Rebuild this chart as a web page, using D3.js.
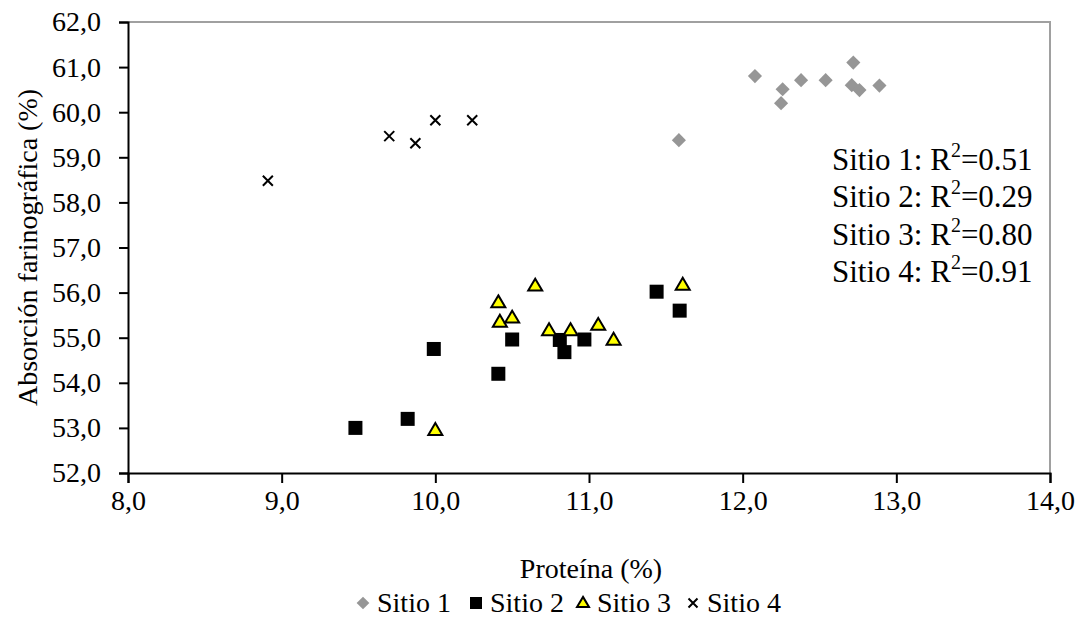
<!DOCTYPE html>
<html>
<head>
<meta charset="utf-8">
<script src="https://cdn.jsdelivr.net/npm/d3@7"></script>
<style>
  body { margin: 0; background: #fff; }
  text { font-family: "Liberation Serif", "Times New Roman", serif; fill: #000; }
</style>
</head>
<body>
<script>
(function(){

//series values
var sitio1 = [[12.08, 60.80], [12.26, 60.51], [12.25, 60.20], [12.38, 60.71], [12.54, 60.71],
              [12.72, 61.10], [12.71, 60.60], [12.76, 60.49], [12.89, 60.59], [11.585, 59.38]];
var sitio2 = [[9.48, 53.00], [9.82, 53.20], [9.99, 54.75], [10.41, 54.20], [10.50, 54.96],
              [10.81, 54.95], [10.84, 54.68], [10.97, 54.96], [11.44, 56.02], [11.59, 55.60]];
var sitio3 = [[10.00, 52.95], [10.65, 56.15], [10.41, 55.78], [10.42, 55.35], [10.50, 55.44],
              [10.74, 55.16], [10.88, 55.16], [11.06, 55.28], [11.16, 54.95], [11.61, 56.17]];
var sitio4 = [[8.91, 58.48], [9.70, 59.47], [9.87, 59.31], [10.00, 59.82], [10.24, 59.82]];

var xTicks = [8, 9, 10, 11, 12, 13, 14];
var yTicks = [52, 53, 54, 55, 56, 57, 58, 59, 60, 61, 62];
var seriesNames = ["Sitio 1", "Sitio 2", "Sitio 3", "Sitio 4"];
var r2Values = ["0.51", "0.29", "0.80", "0.91"];

//frame
var width = 1082, height = 629;
var left = 128, right = 1050, top = 22, bottom = 473;
var serif = "'Liberation Serif', 'Times New Roman', serif";

var svg = d3.select("body").append("svg")
    .attr("width", width)
    .attr("height", height);

var x = d3.scaleLinear().domain([8, 14]).range([left, right]);
var y = d3.scaleLinear().domain([52, 62]).range([bottom, top]);

var fmt = function(d){ return d3.format(".1f")(d).replace(".", ","); };

//gray frame on top and right
svg.append("path")
    .attr("d", "M" + left + "," + top + "H" + right + "V" + bottom)
    .attr("fill", "none")
    .attr("stroke", "#a0a0a0")
    .attr("stroke-width", 2);

//axes
var xAxis = svg.append("g")
    .attr("transform", "translate(0," + bottom + ")")
    .call(d3.axisBottom(x).tickValues(xTicks).tickFormat(fmt).tickSize(10).tickPadding(7));
var yAxis = svg.append("g")
    .attr("transform", "translate(" + left + ",0)")
    .call(d3.axisLeft(y).tickValues(yTicks).tickFormat(fmt).tickSize(9).tickPadding(18));

[xAxis, yAxis].forEach(function(a){
    a.attr("font-family", serif).attr("font-size", 28);
    a.select(".domain").attr("stroke", "#000").attr("stroke-width", 2);
    a.selectAll(".tick line").attr("stroke", "#000").attr("stroke-width", 2);
    a.selectAll(".tick text")
        .style("font-family", serif)
        .style("font-size", "28px")
        .attr("fill", "#000");
});

//axis titles
svg.append("text")
    .attr("x", 591)
    .attr("y", 578)
    .attr("text-anchor", "middle")
    .style("font-family", serif)
    .style("font-size", "28px")
    .text("Proteína (%)");

svg.append("text")
    .attr("transform", "translate(37," + ((top + bottom) / 2) + ") rotate(-90)")
    .attr("text-anchor", "middle")
    .style("font-family", serif)
    .style("font-size", "28px")
    .text("Absorción farinográfica (%)");

//marker shapes
function diamond(g, s){
    g.append("path").attr("d", d3.symbol(d3.symbolSquare, s * s)())
        .attr("transform", "rotate(45)")
        .attr("fill", "#969696");
}
function square(g, s){
    g.append("rect").attr("x", -s / 2).attr("y", -s / 2).attr("width", s).attr("height", s)
        .attr("fill", "#000");
}
function triangle(g, s){
    var h = s * 0.85;
    g.append("path")
        .attr("d", "M0," + (-h * 0.6) + "L" + (s / 2) + "," + (h * 0.4) + "L" + (-s / 2) + "," + (h * 0.4) + "Z")
        .attr("fill", "#ffff00")
        .attr("stroke", "#000")
        .attr("stroke-width", 2)
        .attr("stroke-linejoin", "miter");
}
function cross(g, s){
    var r = s / 2;
    g.append("path")
        .attr("d", "M" + (-r) + "," + (-r) + "L" + r + "," + r + "M" + r + "," + (-r) + "L" + (-r) + "," + r)
        .attr("stroke", "#000")
        .attr("stroke-width", 2)
        .attr("fill", "none");
}

function drawSeries(data, shape, size){
    svg.append("g").selectAll("g")
        .data(data)
        .enter()
        .append("g")
        .attr("transform", function(d){ return "translate(" + x(d[0]) + "," + y(d[1]) + ")"; })
        .each(function(){ shape(d3.select(this), size); });
}

drawSeries(sitio1, diamond, 10);
drawSeries(sitio2, square, 14);
drawSeries(sitio3, triangle, 14);
drawSeries(sitio4, cross, 10);

//R2 annotation
var r2 = svg.append("g");
r2Values.forEach(function(v, i){
    var t = r2.append("text")
        .attr("x", 832)
        .attr("y", 170 + i * 37.3)
        .style("font-family", serif)
        .style("font-size", "31px");
    t.append("tspan").text(seriesNames[i] + ": R");
    t.append("tspan").attr("dy", -13).style("font-size", "20px").text("2");
    t.append("tspan").attr("dy", 13).text("=" + v);
});

//legend
var shapes = [[diamond, 9], [square, 12], [triangle, 12], [cross, 9]];
var legendX = [363, 476, 583, 693];
seriesNames.forEach(function(name, i){
    var g = svg.append("g").attr("transform", "translate(" + legendX[i] + ",603)");
    shapes[i][0](g, shapes[i][1]);
    svg.append("text")
        .attr("x", legendX[i] + 14)
        .attr("y", 612)
        .style("font-family", serif)
        .style("font-size", "28px")
        .text(name);
});

})();
</script>
</body>
</html>
